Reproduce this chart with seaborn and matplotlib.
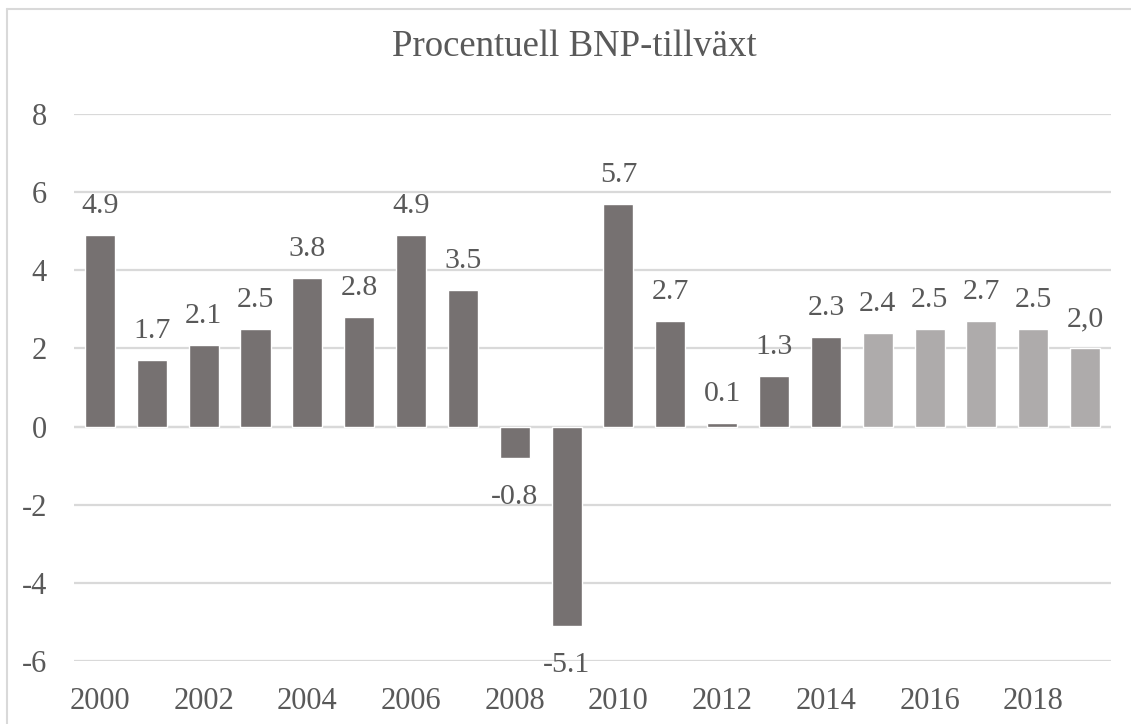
import pandas as pd
import seaborn as sns
import matplotlib.pyplot as plt
from matplotlib.lines import Line2D

# Data
years = list(range(2000, 2020))
growth = [4.9, 1.7, 2.1, 2.5, 3.8, 2.8, 4.9, 3.5, -0.8, -5.1,
          5.7, 2.7, 0.1, 1.3, 2.3, 2.4, 2.5, 2.7, 2.5, 2.0]
labels = ["4.9", "1.7", "2.1", "2.5", "3.8", "2.8", "4.9", "3.5", "-0.8", "-5.1",
          "5.7", "2.7", "0.1", "1.3", "2.3", "2.4", "2.5", "2.7", "2.5", "2,0"]
yticks = [-6, -4, -2, 0, 2, 4, 6, 8]
ytick_labels = ["-6", "-4", "-2", "0", "2", "4", "6", "8"]
forecast_from = 2015

dark = "#767171"
light = "#AEABAB"
text_col = "#595959"
grid_col = "#D9D9D9"

df = pd.DataFrame({"year": [str(y) for y in years], "growth": growth})
colors = [light if y >= forecast_from else dark for y in years]

sns.set_style("white")
plt.rcParams["font.family"] = ["Liberation Serif", "DejaVu Serif"]

fig = plt.figure(figsize=(11.31, 7.24), dpi=100)
ax = fig.add_axes([0.0654, 0.087, 0.917, 0.7555])

sns.barplot(data=df, x="year", y="growth", hue="year", palette=colors,
            legend=False, width=0.58, saturation=1, ax=ax, zorder=2)

# Data labels: above positive bars, below negative ones
for i, (v, lab) in enumerate(zip(growth, labels)):
    if v >= 0:
        ax.annotate(lab, (i, v), xytext=(0, 22), textcoords="offset pixels",
                    ha="center", va="baseline", fontsize=21.5, color=text_col)
    else:
        ax.annotate(lab, (i, v), xytext=(0, -46), textcoords="offset pixels",
                    ha="center", va="baseline", fontsize=21.5, color=text_col)

ax.set_ylim(-6, 8)
ax.set_xlim(-0.5, len(years) - 0.5)
ax.set_yticks(yticks)
ax.set_yticklabels(ytick_labels)
ax.grid(axis="y", color=grid_col, linewidth=1.6, zorder=0)
ax.grid(axis="x", visible=False)
ax.axhline(0, color=grid_col, linewidth=1.6, zorder=1)
for s in ax.spines.values():
    s.set_visible(False)

ax.set_xticks(range(0, len(years), 2))
ax.set_xticklabels([str(y) for y in years[::2]])
ax.tick_params(axis="both", length=0, labelsize=22, labelcolor=text_col)
ax.tick_params(axis="x", pad=19)
ax.tick_params(axis="y", pad=19.5)
ax.set_xlabel("")
ax.set_ylabel("")

fig.text(0.508, 0.9227, "Procentuell BNP-tillväxt", ha="center", va="baseline",
         fontsize=26.5, color=text_col)

# Chart border (only top and left fall inside the image)
fig.add_artist(Line2D([0.0062, 0.0062], [0, 0.9876], transform=fig.transFigure,
                      color=grid_col, linewidth=1.5))
fig.add_artist(Line2D([0.0062, 1], [0.9876, 0.9876], transform=fig.transFigure,
                      color=grid_col, linewidth=1.5))

plt.savefig("out.png", dpi=100)
plt.close()
